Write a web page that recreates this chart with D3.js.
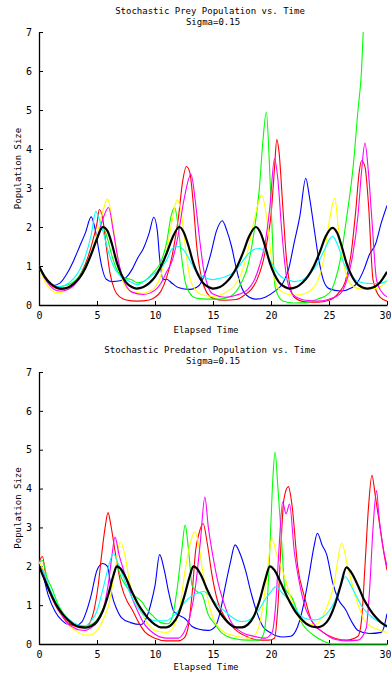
<!DOCTYPE html>
<html>
<head>
<meta charset="utf-8">
<script src="https://cdn.jsdelivr.net/npm/d3@7"></script>
<style>
body { margin: 0; background: #fff; }
text { font-family: "DejaVu Sans Mono", monospace; fill: #000; }
</style>
</head>
<body>
<script>
// Axis ticks
var xTicks = [0, 5, 10, 15, 20, 25, 30];
var yTicks = [0, 1, 2, 3, 4, 5, 6, 7];
var colors = ["#0000ff", "#ff0000", "#00ff00", "#ffff00", "#ff00ff", "#00ffff", "#000000"];

// Prey runs, [time, population]
var preyBlue = [[0,1.0],[0.5,0.7],[1.2,0.5],[1.8,0.56],[2.5,0.85],[3,1.15],[3.5,1.5],[4,1.85],[4.5,2.26],[4.8,2.0],[5.1,1.5],[5.4,1.0],[5.8,0.66],[6.3,0.6],[7,0.62],[7.5,0.7],[8,0.9],[8.5,1.2],[9,1.45],[9.5,1.85],[9.9,2.25],[10.2,1.9],[10.4,1.2],[10.7,0.65],[11.0,0.66],[11.5,0.55],[12,0.45],[13,0.4],[13.8,0.5],[14.3,0.8],[14.8,1.3],[15.3,1.9],[15.8,2.16],[16.2,1.9],[16.6,1.5],[17,0.95],[17.4,0.5],[17.9,0.25],[18.7,0.15],[19.5,0.2],[20.3,0.35],[21,0.55],[21.5,0.9],[22,1.6],[22.5,2.3],[23,3.25],[23.3,2.8],[23.7,2.0],[24.1,1.2],[24.5,0.65],[25,0.42],[26,0.36],[27,0.45],[27.5,0.6],[28,0.9],[28.5,1.3],[29,1.55],[29.5,2.1],[30,2.55]];
var preyRed = [[0,1.0],[0.5,0.7],[1,0.52],[1.8,0.4],[2.5,0.45],[3,0.55],[3.5,0.75],[4,1.05],[4.5,1.5],[5,2.1],[5.2,2.45],[5.5,2.2],[5.8,1.5],[6.1,0.85],[6.5,0.4],[7,0.2],[7.5,0.13],[8.5,0.1],[9.5,0.13],[10,0.2],[10.5,0.35],[11,0.7],[11.5,1.3],[12,2.2],[12.4,3.2],[12.7,3.55],[13,3.4],[13.3,2.6],[13.6,1.5],[14,0.7],[14.5,0.3],[15,0.17],[16,0.12],[17,0.14],[17.7,0.25],[18.3,0.4],[18.8,0.65],[19.3,1.1],[19.7,1.7],[20,2.3],[20.3,3.5],[20.5,4.24],[20.7,3.9],[21,2.6],[21.3,1.3],[21.6,0.55],[22,0.2],[23,0.08],[24,0.07],[25,0.12],[25.8,0.3],[26.4,0.6],[26.9,1.3],[27.3,2.4],[27.6,3.4],[27.8,3.7],[28.1,3.55],[28.4,2.6],[28.8,0.64],[29.4,0.2],[30,0.1]];
var preyGreen = [[0,1.0],[0.5,0.75],[1,0.55],[1.5,0.46],[2,0.48],[2.5,0.52],[3,0.6],[3.5,0.75],[4,1.0],[4.5,1.35],[5,1.75],[5.5,2.0],[5.9,1.7],[6.3,1.25],[6.8,0.85],[7.3,0.7],[8,0.65],[8.5,0.57],[9,0.6],[9.5,0.72],[10,0.88],[10.5,1.1],[11,1.6],[11.4,2.3],[11.7,2.5],[12,2.0],[12.3,1.2],[12.6,0.6],[13,0.3],[13.5,0.18],[14.5,0.15],[15.5,0.15],[16.5,0.22],[17,0.35],[17.5,0.6],[18,1.0],[18.5,1.8],[19,3.0],[19.3,4.2],[19.6,4.95],[19.85,3.7],[20.06,2.2],[20.35,0.47],[20.7,0.2],[21,0.1],[22,0.05],[23,0.06],[24,0.15],[25,0.3],[25.5,0.6],[26,1.2],[26.5,2.2],[27.1,3.6],[27.5,5.0],[27.8,6.0],[27.95,7.0],[28.3,9],[30,16]];
var preyYellow = [[0,1.0],[0.5,0.6],[1,0.4],[1.5,0.31],[2,0.33],[2.5,0.4],[3,0.52],[3.5,0.7],[4,0.95],[4.5,1.3],[5,1.8],[5.5,2.4],[5.9,2.72],[6.3,2.2],[6.7,1.35],[7,0.85],[7.5,0.45],[8,0.35],[9,0.3],[9.5,0.35],[10,0.45],[10.5,0.75],[11,1.4],[11.5,2.2],[11.9,2.7],[12.3,2.3],[12.7,1.3],[13,0.7],[13.5,0.38],[14,0.27],[15,0.22],[16,0.3],[16.5,0.4],[17,0.55],[17.5,0.85],[18,1.4],[18.5,2.1],[19.2,2.82],[19.6,2.3],[20,1.3],[20.5,0.47],[21,0.33],[22,0.25],[23,0.3],[23.5,0.4],[24,0.6],[24.5,1.1],[25,2.1],[25.5,2.74],[25.8,2.0],[26.2,1.15],[26.8,0.56],[27.5,0.42],[28,0.4],[29,0.42],[29.5,0.48],[30,0.6]];
var preyMagenta = [[0,1.0],[0.5,0.68],[1,0.48],[1.8,0.36],[2.5,0.4],[3,0.5],[3.5,0.68],[4,0.95],[4.5,1.3],[5,1.7],[5.5,2.2],[6,2.5],[6.4,1.9],[6.8,1.2],[7.2,0.7],[7.6,0.45],[8,0.33],[9,0.27],[10,0.38],[10.5,0.55],[11,0.85],[11.5,1.15],[12,1.8],[12.5,2.7],[13.1,3.35],[13.5,2.6],[13.8,1.8],[14.2,0.9],[14.6,0.45],[15,0.28],[16,0.2],[17,0.25],[18,0.4],[18.5,0.6],[19,1.0],[19.5,1.6],[19.9,2.5],[20.3,3.75],[20.6,3.2],[20.9,2.0],[21.3,0.8],[21.8,0.3],[22.5,0.16],[23,0.12],[24,0.1],[25,0.15],[26,0.3],[26.5,0.6],[27,1.2],[27.5,2.3],[27.8,3.4],[28.1,4.15],[28.4,3.4],[28.7,2.18],[29.1,0.64],[29.5,0.35],[30,0.21]];
var preyCyan = [[0,1.0],[0.5,0.72],[1,0.55],[1.5,0.47],[2,0.48],[2.5,0.55],[3,0.68],[3.5,0.9],[4,1.25],[4.5,1.8],[4.9,2.4],[5.2,2.2],[5.6,1.8],[6,1.35],[6.5,0.95],[7,0.75],[7.5,0.65],[8,0.58],[8.5,0.52],[9,0.6],[9.5,0.7],[10,0.82],[10.5,0.95],[11,1.15],[11.5,1.45],[12,1.5],[12.5,1.4],[13,1.15],[13.5,0.88],[14,0.75],[14.5,0.68],[15,0.65],[15.5,0.68],[16,0.72],[16.5,0.78],[17,0.9],[17.5,1.1],[18,1.3],[18.5,1.42],[19,1.45],[19.5,1.35],[20,1.1],[20.5,0.85],[21,0.7],[21.5,0.65],[22,0.6],[22.5,0.62],[23,0.7],[23.5,0.85],[24,1.05],[24.5,1.35],[25.3,1.76],[25.8,1.5],[26.3,1.05],[26.8,0.8],[27.5,0.6],[28.5,0.55],[29.3,0.55],[30,0.62]];
var preyBlack = [[0,1.0],[0.5,0.72],[1,0.55],[1.5,0.45],[2,0.42],[2.5,0.45],[3,0.55],[3.5,0.7],[4,0.95],[4.5,1.3],[5,1.7],[5.5,2.0],[5.9,1.9],[6.3,1.55],[6.7,1.1],[7.1,0.78],[7.5,0.58],[8,0.46],[8.4,0.42],[9,0.46],[9.5,0.56],[10,0.72],[10.5,0.98],[11,1.32],[11.5,1.72],[12.1,2.0],[12.5,1.85],[12.9,1.5],[13.3,1.08],[13.7,0.78],[14.1,0.58],[14.6,0.46],[15,0.42],[15.6,0.46],[16.1,0.57],[16.6,0.74],[17.1,1.0],[17.6,1.35],[18.1,1.75],[18.7,2.0],[19.1,1.85],[19.5,1.5],[19.9,1.08],[20.3,0.78],[20.7,0.58],[21.2,0.46],[21.6,0.42],[22.2,0.46],[22.7,0.57],[23.2,0.74],[23.7,1.0],[24.2,1.35],[24.7,1.75],[25.3,1.98],[25.7,1.85],[26.1,1.5],[26.5,1.08],[26.9,0.78],[27.3,0.58],[27.8,0.46],[28.3,0.42],[28.9,0.46],[29.4,0.58],[30,0.85]];

// Predator runs, [time, population]
var predBlue = [[0,2.0],[0.4,1.7],[0.8,1.25],[1.4,0.83],[2,0.6],[2.5,0.5],[3.2,0.48],[3.7,0.57],[4.1,0.85],[4.5,1.26],[5,1.9],[5.5,2.07],[5.9,2.0],[6.3,1.25],[6.7,0.9],[7.1,0.68],[7.9,0.55],[8.8,0.5],[9.3,0.7],[9.7,1.1],[10,1.5],[10.4,2.3],[10.8,1.9],[11.2,1.3],[11.6,0.85],[12,0.75],[12.6,0.65],[13.2,0.45],[13.8,0.38],[14.6,0.35],[15.2,0.45],[15.6,0.8],[16,1.4],[16.5,2.1],[16.9,2.55],[17.3,2.35],[17.8,1.9],[18.3,1.3],[18.8,0.8],[19.3,0.45],[20,0.28],[21,0.18],[21.7,0.2],[22.3,0.45],[22.8,1.0],[23.3,1.8],[23.7,2.5],[24,2.85],[24.4,2.55],[24.8,2.3],[25.3,1.6],[25.8,1.15],[26.4,0.9],[27,0.55],[27.5,0.35],[28.5,0.27],[29.5,0.3],[29.8,0.5],[30,0.78]];
var predRed = [[0,2.1],[0.3,2.25],[0.6,1.7],[1,1.3],[1.5,0.95],[2,0.72],[2.5,0.55],[3,0.47],[3.5,0.42],[4,0.42],[4.4,0.55],[4.8,0.95],[5.1,1.5],[5.4,2.3],[5.7,3.0],[5.95,3.38],[6.2,3.05],[6.55,2.4],[7.1,1.5],[7.6,1.1],[8,0.9],[8.6,0.55],[9.1,0.32],[10,0.15],[11,0.08],[12,0.08],[12.5,0.15],[12.9,0.5],[13.2,1.3],[13.5,2.4],[13.8,2.85],[14.15,3.1],[14.5,2.6],[14.9,1.8],[15.4,1.1],[16,0.7],[17,0.35],[18,0.18],[19,0.1],[19.8,0.1],[20.3,0.15],[20.6,1.0],[20.9,2.8],[21.1,3.7],[21.5,4.05],[21.8,3.6],[22.3,2.0],[22.9,1.2],[23.5,0.6],[24.5,0.3],[25.5,0.15],[26.5,0.1],[27.5,0.2],[27.8,0.6],[28.1,2.0],[28.4,3.5],[28.7,4.34],[29,3.8],[29.4,3.0],[29.7,2.4],[30,1.9]];
var predGreen = [[0,2.1],[0.3,2.15],[0.7,1.7],[1.1,1.44],[1.6,1.05],[2.2,0.75],[2.8,0.55],[3.3,0.48],[4,0.45],[4.5,0.5],[5,0.62],[5.5,0.9],[6,1.3],[6.4,1.75],[6.7,1.99],[7.1,1.7],[7.6,1.45],[8.2,1.25],[8.85,1.09],[9.4,0.85],[9.9,0.7],[10.5,0.55],[11.1,0.52],[11.5,0.7],[11.9,1.4],[12.3,2.4],[12.6,3.06],[12.9,2.4],[13.2,1.5],[13.6,1.35],[14,1.3],[14.6,0.75],[15.2,0.5],[15.7,0.3],[16.2,0.2],[17,0.13],[18,0.1],[19,0.1],[19.4,0.3],[19.7,1.2],[19.95,2.8],[20.15,4.2],[20.35,4.94],[20.6,4.0],[20.9,2.72],[21.2,1.44],[21.8,1.2],[22.6,0.57],[23.7,0.22],[24.5,0.08],[25.2,0.0],[30,0.0]];
var predYellow = [[0,2.1],[0.4,1.9],[0.9,1.35],[1.5,0.95],[2,0.7],[2.5,0.5],[3,0.38],[3.5,0.28],[4,0.23],[4.5,0.24],[5,0.35],[5.5,0.6],[6,1.0],[6.5,1.8],[7,2.63],[7.4,2.3],[7.8,1.6],[8.1,1.26],[8.6,0.95],[9.2,0.6],[10,0.35],[11,0.3],[11.6,0.45],[12.1,0.9],[12.6,1.9],[13.0,2.55],[13.45,2.89],[13.8,2.5],[14.1,1.9],[14.6,1.1],[15.1,0.6],[16,0.3],[17,0.2],[18,0.15],[18.5,0.2],[19,0.5],[19.5,1.4],[19.8,2.2],[20.06,2.72],[20.5,2.3],[21.2,1.7],[21.8,1.1],[22.6,0.6],[23.8,0.5],[24.6,0.8],[25.4,1.5],[26.1,2.6],[26.6,2.0],[27.3,1.2],[28.2,0.55],[29,0.4],[30,0.3]];
var predMagenta = [[0,2.0],[0.4,1.85],[0.9,1.35],[1.5,0.95],[2,0.72],[2.5,0.52],[3,0.42],[3.5,0.36],[4,0.35],[4.5,0.42],[5,0.55],[5.5,0.85],[6,1.6],[6.3,2.3],[6.55,2.75],[6.9,2.3],[7.4,1.8],[8,1.2],[8.5,0.85],[9,0.55],[10,0.25],[11,0.15],[12,0.15],[12.5,0.3],[13,0.7],[13.5,1.5],[13.9,2.6],[14.3,3.78],[14.6,3.0],[15,2.25],[15.5,1.5],[16,1.0],[16.5,0.6],[17.5,0.3],[18.5,0.2],[19.5,0.15],[20.1,0.3],[20.4,1.0],[20.7,2.5],[21.0,3.65],[21.3,3.35],[21.6,3.6],[22,2.4],[22.5,1.5],[23,0.9],[23.5,0.6],[24.5,0.3],[25.5,0.12],[26.5,0.08],[27.5,0.1],[28.2,0.4],[28.5,1.4],[28.8,3.0],[29.1,3.95],[29.3,3.3],[29.6,2.6],[30,2.0]];
var predCyan = [[0,2.0],[0.4,1.85],[0.9,1.45],[1.5,1.05],[2,0.8],[2.5,0.65],[3,0.55],[3.5,0.48],[4,0.47],[4.5,0.6],[5,0.85],[5.5,1.4],[6,2.0],[6.4,2.33],[6.9,2.0],[7.5,1.55],[8,1.2],[8.5,0.95],[9,0.75],[9.5,0.65],[10,0.6],[11,0.6],[11.5,0.7],[12,0.85],[12.5,1.05],[13,1.2],[13.6,1.3],[14.2,1.35],[14.8,1.2],[15.4,1.0],[16,0.85],[16.5,0.72],[17,0.62],[17.5,0.58],[18,0.6],[18.5,0.72],[19,0.9],[19.5,1.15],[20,1.35],[20.4,1.47],[21,1.3],[21.5,1.15],[22,0.95],[22.5,0.75],[23,0.65],[23.8,0.62],[24.5,0.7],[25,0.85],[25.5,1.1],[26,1.5],[26.4,1.73],[26.9,1.5],[27.5,1.15],[28,0.9],[28.5,0.75],[29,0.62],[29.5,0.55],[30,0.48]];
var predBlack = [[0,2.0],[0.5,1.65],[1,1.3],[1.5,1.0],[2,0.78],[2.5,0.62],[3,0.5],[3.5,0.44],[4,0.42],[4.5,0.46],[5,0.58],[5.5,0.85],[6,1.3],[6.4,1.75],[6.7,2.0],[7.0,1.95],[7.5,1.7],[8,1.35],[8.5,1.05],[9,0.82],[9.5,0.63],[10,0.5],[10.5,0.43],[11,0.43],[11.5,0.52],[12,0.75],[12.5,1.2],[13,1.75],[13.3,2.0],[13.6,1.95],[14,1.75],[14.5,1.4],[15,1.1],[15.5,0.85],[16,0.65],[16.5,0.5],[17,0.43],[17.5,0.43],[18,0.5],[18.5,0.7],[19,1.1],[19.5,1.65],[19.9,2.0],[20.3,1.9],[20.8,1.6],[21.5,1.15],[22,0.88],[22.5,0.68],[23,0.53],[23.5,0.45],[24,0.43],[24.5,0.48],[25,0.65],[25.5,1.0],[26,1.5],[26.5,1.97],[26.9,1.85],[27.5,1.5],[28,1.15],[28.5,0.9],[29,0.7],[29.5,0.55],[30,0.45]];

var preySeries = [preyBlue, preyRed, preyGreen, preyYellow, preyMagenta, preyCyan, preyBlack];
var predSeries = [predBlue, predRed, predGreen, predYellow, predMagenta, predCyan, predBlack];

var width = 391, height = 675;

var svg = d3.select("body")
        .append("svg")
        .attr("width", width)
        .attr("height", height);

var x = d3.scaleLinear().domain([0, 30]).range([39, 387]);

function drawPanel(id, series, title, top, bottom, titleY, xlabelY) {
    var y = d3.scaleLinear().domain([0, 7]).range([bottom, top]);

    svg.append("clipPath").attr("id", id)
        .append("rect")
        .attr("x", 39).attr("y", top)
        .attr("width", 348).attr("height", bottom - top + 2);

    svg.append("text")
        .attr("x", 210).attr("y", titleY)
        .attr("text-anchor", "middle")
        .style("font-size", "9px")
        .text(title);
    svg.append("text")
        .attr("x", 213).attr("y", titleY + 11)
        .attr("text-anchor", "middle")
        .style("font-size", "9px")
        .text("Sigma=0.15");

    var xAxis = svg.append("g")
        .attr("transform", "translate(0," + bottom + ")")
        .call(d3.axisBottom(x).tickValues(xTicks).tickFormat(d3.format("d"))
            .tickSizeInner(-4).tickSizeOuter(0).tickPadding(7));
    var yAxis = svg.append("g")
        .attr("transform", "translate(39,0)")
        .call(d3.axisLeft(y).tickValues(yTicks).tickFormat(d3.format("d"))
            .tickSizeInner(-4).tickSizeOuter(0).tickPadding(7));

    [xAxis, yAxis].forEach(function(a) {
        a.select(".domain").attr("stroke", "#000").attr("stroke-width", 1.3);
        a.selectAll("text").style("font-size", "10px").style("font-family", "DejaVu Sans Mono");
    });
    // last x label sits at the window edge
    xAxis.selectAll(".tick text").filter(function(d) { return d == 30; })
        .attr("text-anchor", "end").attr("dx", "4");

    svg.append("text")
        .attr("transform", "translate(21," + ((top + bottom) / 2) + ") rotate(-90)")
        .attr("text-anchor", "middle")
        .style("font-size", "9px")
        .text("Population Size");
    svg.append("text")
        .attr("x", 206).attr("y", xlabelY)
        .attr("text-anchor", "middle")
        .style("font-size", "9px")
        .text("Elapsed Time");

    var line = d3.line()
        .x(function(d) { return x(d[0]); })
        .y(function(d) { return y(d[1]); })
        .curve(d3.curveMonotoneX);

    svg.append("g")
        .attr("clip-path", "url(#" + id + ")")
        .selectAll("path")
        .data(series)
        .enter()
        .append("path")
        .attr("d", line)
        .attr("fill", "none")
        .attr("stroke", function(d, i) { return colors[i]; })
        .attr("stroke-width", function(d, i) { return i == 6 ? 2.2 : 1.1; })
        .attr("stroke-linejoin", "round");
}

drawPanel("clipPrey", preySeries, "Stochastic Prey Population vs. Time", 32, 305, 14, 333);
drawPanel("clipPred", predSeries, "Stochastic Predator Population vs. Time", 372, 644, 353, 670);
</script>
</body>
</html>
